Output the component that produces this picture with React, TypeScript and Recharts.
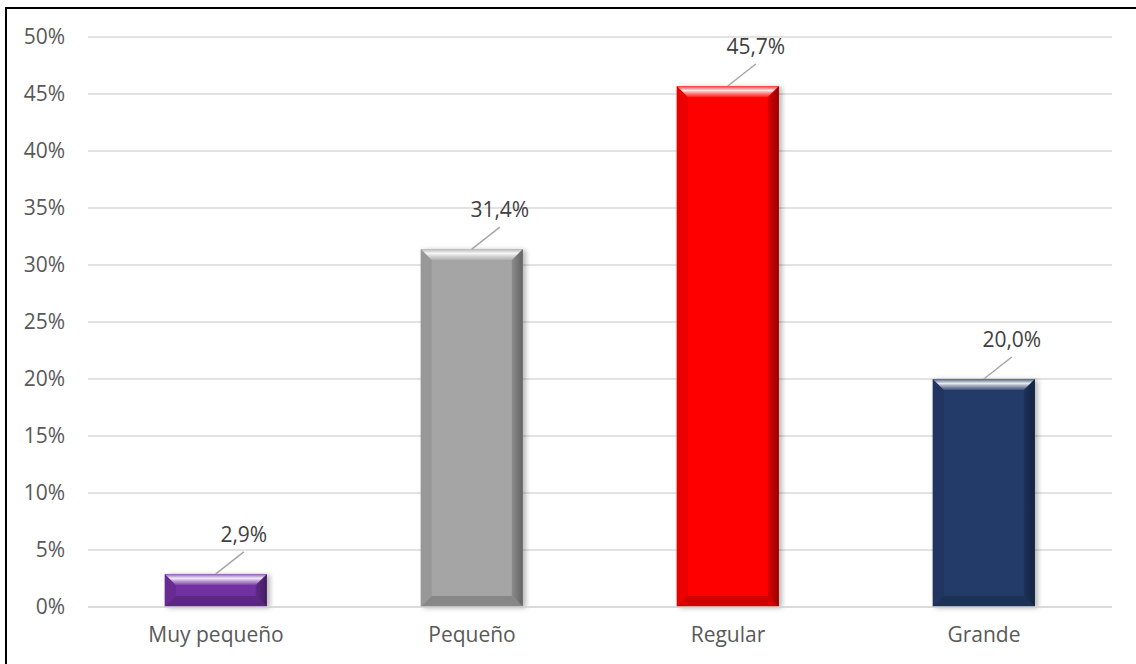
import { Bar, BarChart, CartesianGrid, Cell, LabelList, XAxis, YAxis } from "recharts";

const categories = ["Muy pequeño", "Pequeño", "Regular", "Grande"];
const values = [2.9, 31.4, 45.7, 20.0];
const barColors = ["#7030A0", "#A5A5A5", "#FF0000", "#233A68"];
const yTicks = [0, 5, 10, 15, 20, 25, 30, 35, 40, 45, 50];

const data = categories.map((name, i) => ({ name, value: values[i] }));

const FONT = "'Open Sans', Lato, sans-serif";

function shade(hex: string, amt: number) {
  // amt > 0 mixes toward white, < 0 toward black
  const n = parseInt(hex.slice(1), 16);
  const ch = [(n >> 16) & 255, (n >> 8) & 255, n & 255].map((c) =>
    Math.round(amt >= 0 ? c + (255 - c) * amt : c * (1 + amt))
  );
  return `rgb(${ch[0]},${ch[1]},${ch[2]})`;
}

function BevelBar(props: any) {
  const { x, y, width: w, height: h, fill, index } = props;
  if (!w || h == null || h <= 0) return null;
  const b = Math.min(11, h / 2.6, w / 2);
  const id = `tb${index}`;
  const rid = `rb${index}`;
  return (
    <g filter="url(#barShadow)">
      <defs>
        <linearGradient id={id} x1="0" y1="0" x2="0" y2="1">
          <stop offset="0" stopColor={shade(fill, 0.2)} />
          <stop offset="0.4" stopColor={shade(fill, 0.9)} />
          <stop offset="0.6" stopColor={shade(fill, 0.6)} />
          <stop offset="1" stopColor={shade(fill, 0.1)} />
        </linearGradient>
        <linearGradient id={rid} x1="0" y1="0" x2="1" y2="0">
          <stop offset="0" stopColor={shade(fill, -0.15)} />
          <stop offset="1" stopColor={shade(fill, -0.4)} />
        </linearGradient>
      </defs>
      <rect x={x} y={y} width={w} height={h} fill={fill} />
      <polygon points={`${x},${y} ${x + b},${y + b} ${x + b},${y + h - b} ${x},${y + h}`} fill={shade(fill, -0.08)} />
      <polygon points={`${x + w},${y} ${x + w - b},${y + b} ${x + w - b},${y + h - b} ${x + w},${y + h}`} fill={`url(#${rid})`} />
      <polygon points={`${x},${y + h} ${x + b},${y + h - b} ${x + w - b},${y + h - b} ${x + w},${y + h}`} fill={shade(fill, -0.18)} />
      <polygon points={`${x},${y} ${x + w},${y} ${x + w - b},${y + b} ${x + b},${y + b}`} fill={`url(#${id})`} />
    </g>
  );
}

function LeaderLabel(props: any) {
  const { x, y, width, value } = props;
  const cx = x + width / 2;
  const ex = cx + 28;
  const ey = y - 22;
  return (
    <g>
      <line x1={cx} y1={y} x2={ex} y2={ey} stroke="#A6A6A6" strokeWidth={1.5} />
      <text x={ex} y={ey - 10} textAnchor="middle" fontFamily={FONT} fontSize={21} fill="#404040">
        {`${Number(value).toFixed(1).replace(".", ",")}%`}
      </text>
    </g>
  );
}

export default function App() {
  return (
    <div style={{ position: "absolute", left: 0, top: 0, width: 1136, height: 664, overflow: "hidden", background: "#fff" }}>
      <div
        style={{
          position: "absolute",
          left: 5,
          top: 7,
          width: 1150,
          height: 680,
          border: "2px solid #000",
          boxSizing: "border-box",
        }}
      />
      <div style={{ position: "absolute", left: 0, top: 0 }}>
        <BarChart width={1136} height={664} data={data} margin={{ top: 37, right: 24, bottom: 27, left: 18 }} barCategoryGap="30%">
          <defs>
            <filter id="barShadow" x="-10%" y="-10%" width="130%" height="130%">
              <feDropShadow dx="3" dy="1" stdDeviation="2.5" floodColor="#000" floodOpacity="0.28" />
            </filter>
          </defs>
          <CartesianGrid vertical={false} stroke="#D9D9D9" strokeWidth={1.5} />
          <XAxis
            dataKey="name"
            height={30}
            tickSize={0}
            tickMargin={20}
            axisLine={{ stroke: "#D9D9D9", strokeWidth: 1.5 }}
            tickLine={false}
            tick={{ fontFamily: FONT, fontSize: 21, fill: "#595959" }}
          />
          <YAxis
            width={70}
            domain={[0, 50]}
            ticks={yTicks}
            tickFormatter={(v) => `${v}%`}
            tickSize={0}
            tickMargin={23}
            axisLine={false}
            tickLine={false}
            tick={{ fontFamily: FONT, fontSize: 21, fill: "#595959" }}
          />
          <Bar dataKey="value" shape={<BevelBar />} isAnimationActive={false}>
            {data.map((d, i) => (
              <Cell key={d.name} fill={barColors[i]} />
            ))}
            <LabelList dataKey="value" content={<LeaderLabel />} />
          </Bar>
        </BarChart>
      </div>
    </div>
  );
}
